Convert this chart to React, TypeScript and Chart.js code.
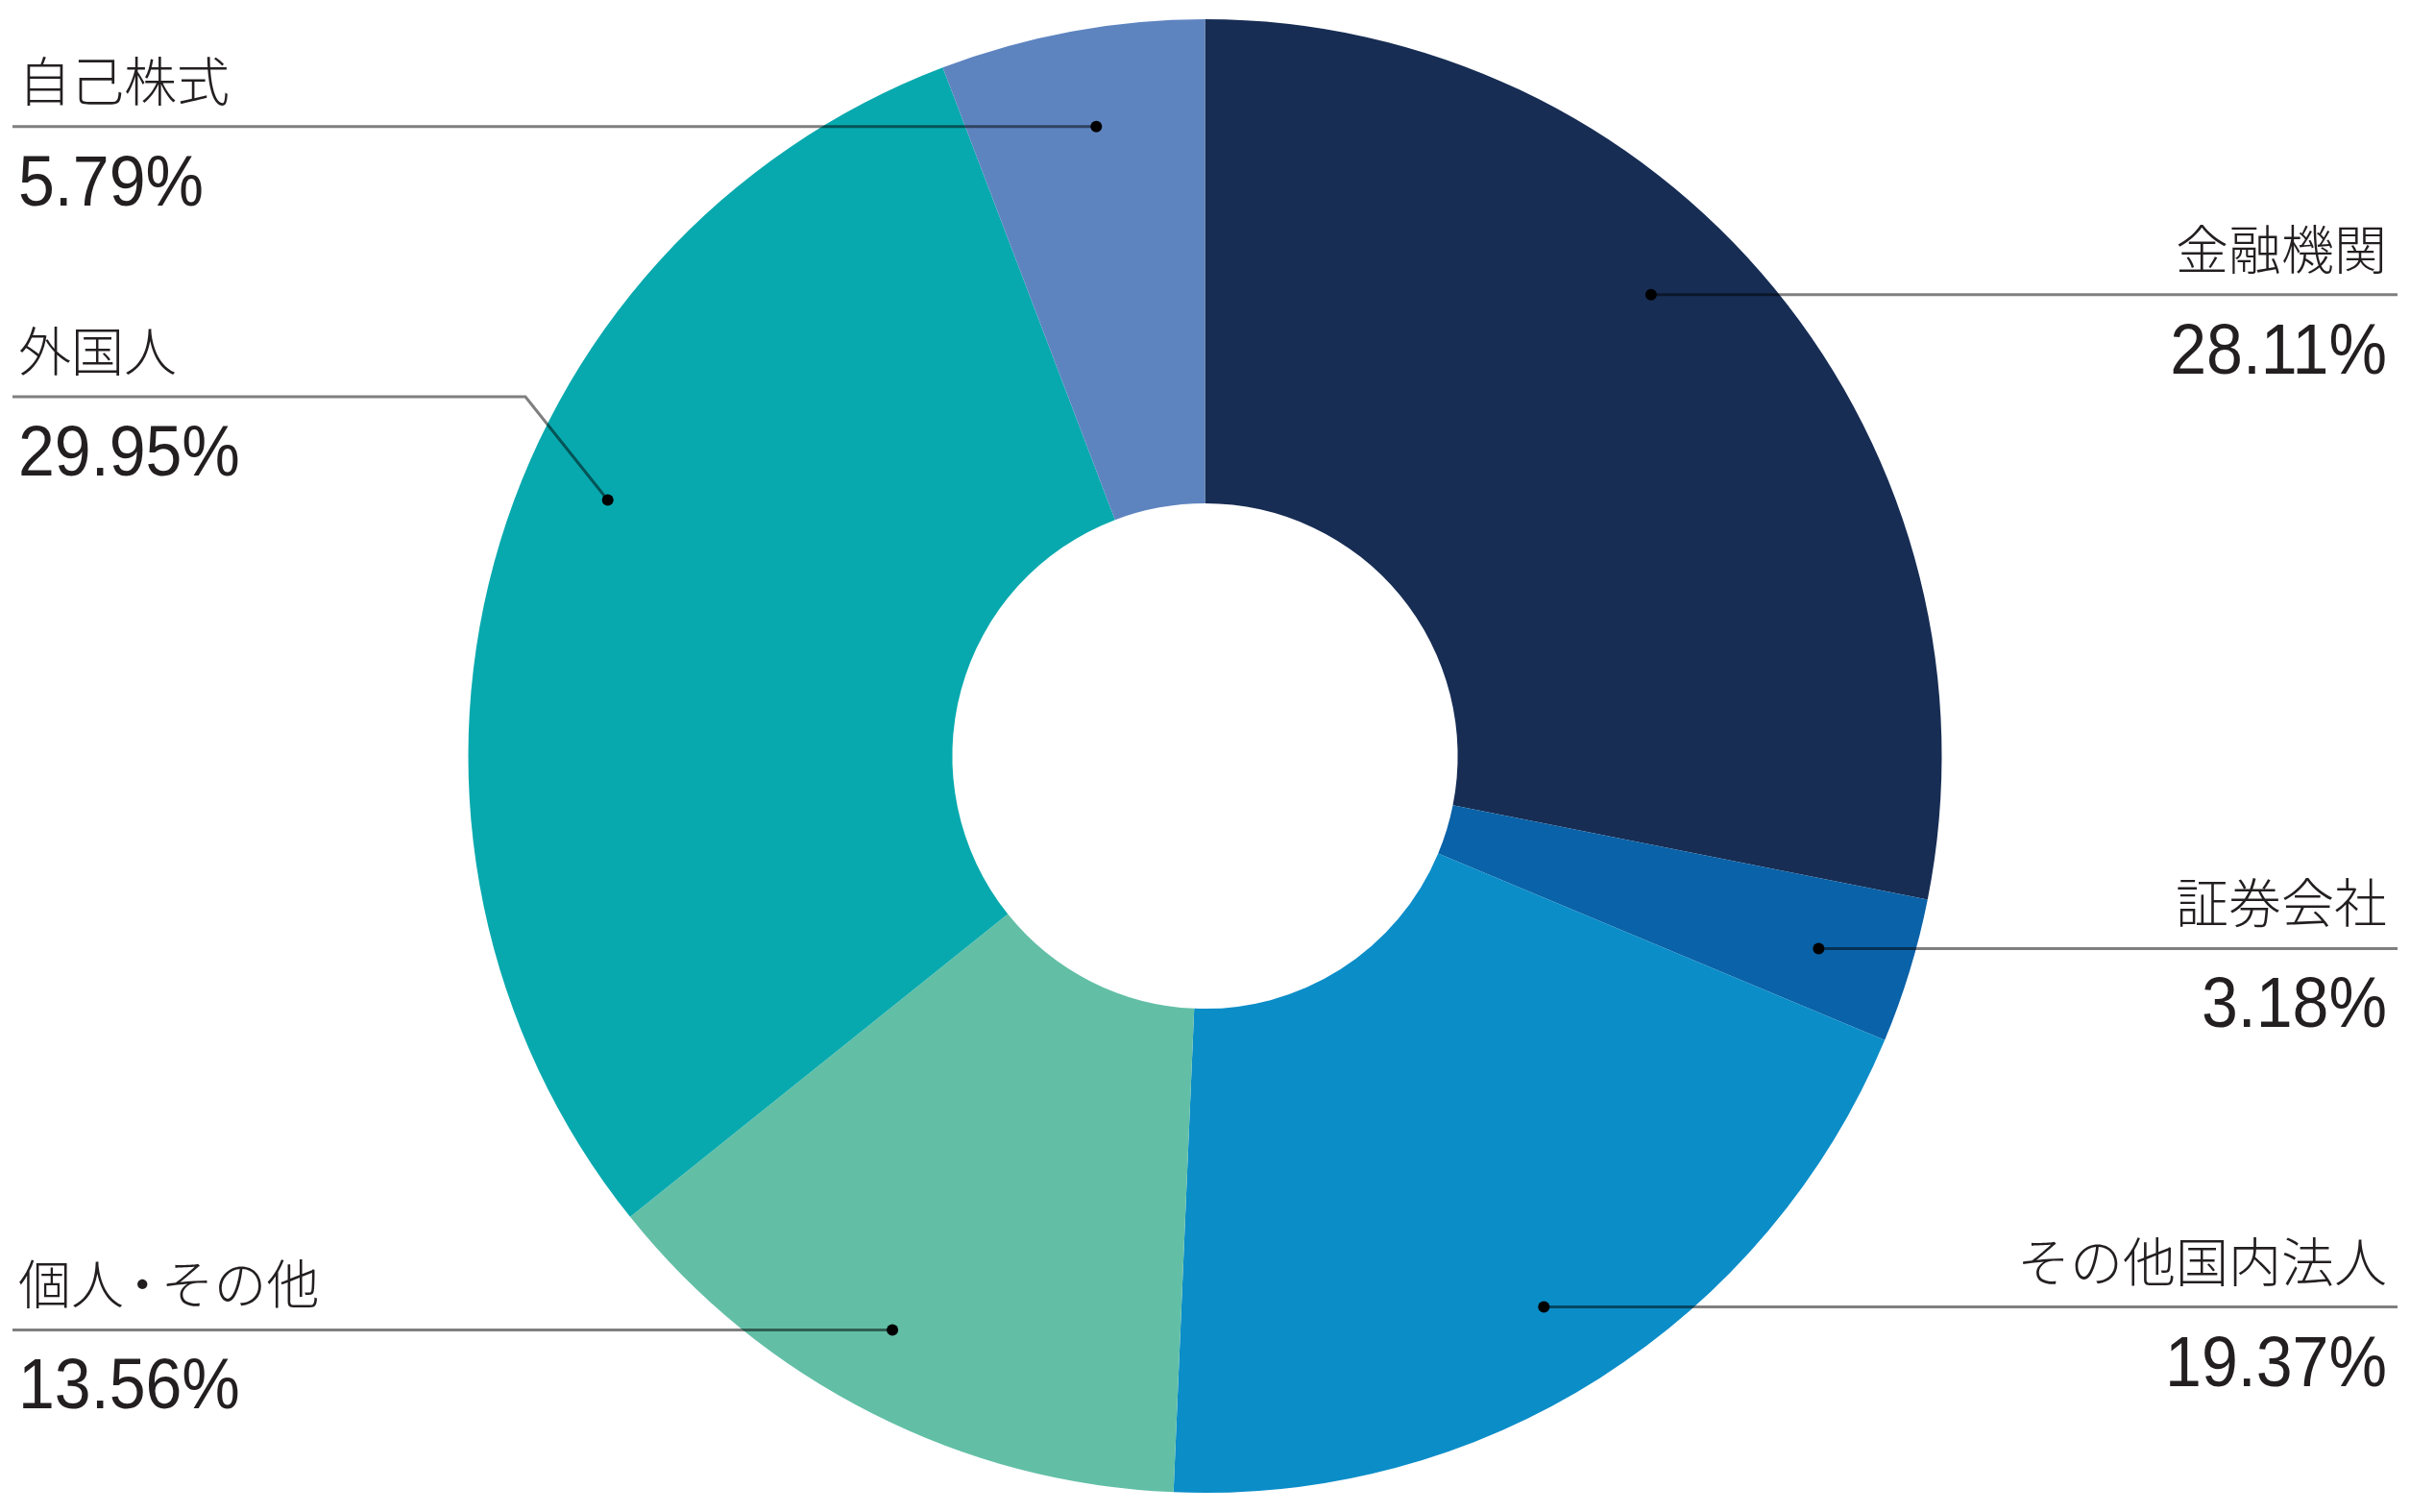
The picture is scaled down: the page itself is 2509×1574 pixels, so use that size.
import React, { useEffect, useRef } from "react";
import { Chart, registerables } from "chart.js";

Chart.register(...registerables);

const categories = ["金融機関", "証券会社", "その他国内法人", "個人・その他", "外国人", "自己株式"];
const shares = [28.11, 3.18, 19.37, 13.56, 29.95, 5.79];
const percentLabels = ["28.11%", "3.18%", "19.37%", "13.56%", "29.95%", "5.79%"];
const sliceColors = ["#172d54", "#0a62a8", "#0b8dc8", "#62bfa6", "#07a9ae", "#5e84c0"];

// callout placement (layout only): where along each slice the dot sits, and label side
const calloutLayout = [
  { side: "right", angleFrac: 0.435, radiusFrac: 0.871, lineY: null as number | null, kinkX: null as number | null },
  { side: "right", angleFrac: 0.54, radiusFrac: 0.873, lineY: null, kinkX: null },
  { side: "right", angleFrac: 0.512, radiusFrac: 0.878, lineY: null, kinkX: null },
  { side: "left", angleFrac: 0.535, radiusFrac: 0.887, lineY: null, kinkX: null },
  { side: "left", angleFrac: 0.574, radiusFrac: 0.882, lineY: 413, kinkX: 547 },
  { side: "left", angleFrac: 0.53, radiusFrac: 0.867, lineY: null, kinkX: null },
];

const W = 2509;
const H = 1574;
const NAME_SIZE = 55;

// draws a name, giving the middle dot a narrower advance
function drawName(ctx: CanvasRenderingContext2D, text: string, x: number, y: number, align: "left" | "right") {
  const parts = text.split("・");
  const dotAdvance = NAME_SIZE * 0.7;
  let total = 0;
  parts.forEach((p, i) => {
    total += ctx.measureText(p).width;
    if (i < parts.length - 1) total += dotAdvance;
  });
  let cx = align === "left" ? x : x - total;
  ctx.textAlign = "left";
  parts.forEach((p, i) => {
    ctx.fillText(p, cx, y);
    cx += ctx.measureText(p).width;
    if (i < parts.length - 1) {
      ctx.textAlign = "center";
      ctx.fillText("・", cx + dotAdvance / 2, y);
      ctx.textAlign = "left";
      cx += dotAdvance;
    }
  });
}

const calloutPlugin = {
  id: "callouts",
  afterDatasetsDraw(chart: any) {
    const ctx = chart.ctx as CanvasRenderingContext2D;
    const meta = chart.getDatasetMeta(0);
    const leftLineX = 13;
    const rightLineX = 2496;
    const leftTextX = 19;
    const rightTextX = 2485;
    meta.data.forEach((arc: any, i: number) => {
      const p = arc.getProps(["x", "y", "startAngle", "endAngle", "outerRadius"], true);
      const lay = calloutLayout[i];
      const a = p.startAngle + lay.angleFrac * (p.endAngle - p.startAngle);
      const r = p.outerRadius * lay.radiusFrac;
      const dx = p.x + Math.cos(a) * r;
      const dy = p.y + Math.sin(a) * r;
      const ly = lay.lineY != null ? lay.lineY : dy;

      ctx.save();
      ctx.strokeStyle = "rgba(0,0,0,0.5)";
      ctx.lineWidth = 3;
      ctx.beginPath();
      if (lay.side === "left") {
        ctx.moveTo(leftLineX, ly);
        if (lay.kinkX != null) {
          ctx.lineTo(lay.kinkX, ly);
        }
        ctx.lineTo(dx, dy);
      } else {
        ctx.moveTo(dx, dy);
        ctx.lineTo(rightLineX, ly);
      }
      ctx.stroke();

      ctx.fillStyle = "#000";
      ctx.beginPath();
      ctx.arc(dx, dy, 6, 0, Math.PI * 2);
      ctx.fill();

      ctx.fillStyle = "#231f20";
      ctx.font = `300 ${NAME_SIZE}px 'Noto Sans CJK JP'`;
      ctx.textBaseline = "middle";
      const name = categories[i];
      if (lay.side === "left") {
        drawName(ctx, name, leftTextX, ly - 48, "left");
      } else {
        drawName(ctx, name, rightTextX, ly - 48, "right");
      }

      ctx.font = "400 74px 'Liberation Sans'";
      ctx.textBaseline = "alphabetic";
      const pct = percentLabels[i];
      ctx.save();
      if (lay.side === "left") {
        ctx.translate(leftTextX, ly + 82);
        ctx.scale(0.92, 1);
        ctx.textAlign = "left";
      } else {
        ctx.translate(rightTextX, ly + 82);
        ctx.scale(0.92, 1);
        ctx.textAlign = "right";
      }
      ctx.fillText(pct, 0, 0);
      ctx.restore();
      ctx.restore();
    });
  },
};

export default function App() {
  const canvasRef = useRef<HTMLCanvasElement | null>(null);

  useEffect(() => {
    document.body.style.margin = "0";
    document.body.style.overflow = "hidden";
    const canvas = canvasRef.current;
    if (!canvas) return;
    const chart = new Chart(canvas, {
      type: "doughnut",
      data: {
        labels: categories,
        datasets: [
          {
            data: shares,
            backgroundColor: sliceColors,
            borderWidth: 0,
          },
        ],
      },
      options: {
        responsive: false,
        animation: false,
        devicePixelRatio: 1,
        cutout: "34.3%",
        layout: { padding: { top: 20, bottom: 20, left: 0, right: 0 } },
        plugins: {
          legend: { display: false },
          tooltip: { enabled: false },
        },
      },
      plugins: [calloutPlugin],
    });
    return () => chart.destroy();
  }, []);

  return (
    <div style={{ position: "fixed", left: 0, top: 0, width: W, height: H, background: "#fff" }}>
      <canvas ref={canvasRef} width={W} height={H} style={{ width: W, height: H, display: "block" }} />
    </div>
  );
}
